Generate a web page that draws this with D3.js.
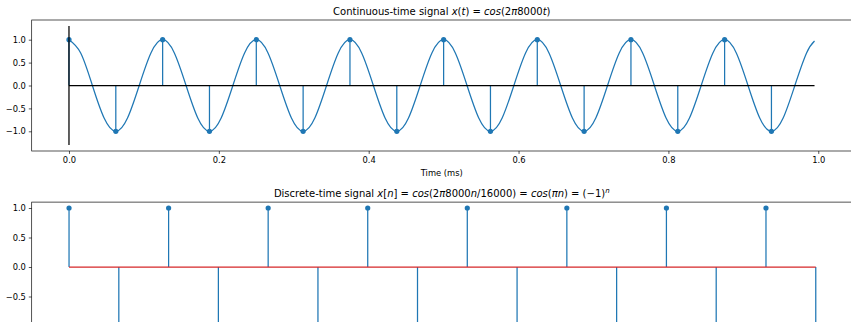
<!DOCTYPE html>
<html>
<head>
<meta charset="utf-8">
<script src="https://cdn.jsdelivr.net/npm/d3@7"></script>
<style>
  body { margin: 0; background: #fff; }
  svg { display: block; font-family: "DejaVu Sans", sans-serif; }
</style>
</head>
<body>
<div id="chart"></div>
<script>
// ---- Data ----
// Continuous signal (8 kHz cosine, time in ms)
const curveTime = [
  0, 0.015625, 0.03125, 0.046875, 0.0625, 0.078125, 0.09375, 0.109375,
  0.125, 0.140625, 0.15625, 0.171875, 0.1875, 0.203125, 0.21875, 0.234375,
  0.25, 0.265625, 0.28125, 0.296875, 0.3125, 0.328125, 0.34375, 0.359375,
  0.375, 0.390625, 0.40625, 0.421875, 0.4375, 0.453125, 0.46875, 0.484375,
  0.5, 0.515625, 0.53125, 0.546875, 0.5625, 0.578125, 0.59375, 0.609375,
  0.625, 0.640625, 0.65625, 0.671875, 0.6875, 0.703125, 0.71875, 0.734375,
  0.75, 0.765625, 0.78125, 0.796875, 0.8125, 0.828125, 0.84375, 0.859375,
  0.875, 0.890625, 0.90625, 0.921875, 0.9375, 0.953125, 0.96875, 0.984375,
  0.995
];
const curveValue = [
  1, 0.71, 0, -0.71, -1, -0.71, 0, 0.71,
  1, 0.71, 0, -0.71, -1, -0.71, 0, 0.71,
  1, 0.71, 0, -0.71, -1, -0.71, 0, 0.71,
  1, 0.71, 0, -0.71, -1, -0.71, 0, 0.71,
  1, 0.71, 0, -0.71, -1, -0.71, 0, 0.71,
  1, 0.71, 0, -0.71, -1, -0.71, 0, 0.71,
  1, 0.71, 0, -0.71, -1, -0.71, 0, 0.71,
  1, 0.71, 0, -0.71, -1, -0.71, 0, 0.71,
  0.97
];
// Samples (16 kHz) in ms
const sampleTime = [0, 0.0625, 0.125, 0.1875, 0.25, 0.3125, 0.375, 0.4375,
                    0.5, 0.5625, 0.625, 0.6875, 0.75, 0.8125, 0.875, 0.9375];
const sampleValue = [1, -1, 1, -1, 1, -1, 1, -1, 1, -1, 1, -1, 1, -1, 1, -1];
// Discrete-time signal
const nIndex = [0, 1, 2, 3, 4, 5, 6, 7, 8, 9, 10, 11, 12, 13, 14, 15];
const nValue = [1, -1, 1, -1, 1, -1, 1, -1, 1, -1, 1, -1, 1, -1, 1, -1];
// Ticks
const topXTicks = [0.0, 0.2, 0.4, 0.6, 0.8, 1.0];
const topYTicks = [-1.0, -0.5, 0.0, 0.5, 1.0];
const botYTicks = [-0.5, 0.0, 0.5, 1.0];
// Vertical reference line extent
const vlineRange = [-1.3, 1.3];

// ---- Layout ----
const W = 851, H = 322;
const blue = "#1f77b4", red = "#d62728";
const left = 31.7, right = 851.8;
const tickFont = 8.33, titleFont = 10;
const lw = 1.25;

const svg = d3.select("#chart").append("svg").attr("width", W).attr("height", H);
const fmt = d => d3.format(".1f")(d).replace("-", "\u2212");

// ---- Top axes ----
const top1 = 20, bot1 = 151;
const x1 = d3.scaleLinear().domain([-0.04975, 1.04475]).range([left, right]);
const y1 = d3.scaleLinear().domain([-1.43, 1.43]).range([bot1, top1]);
const g1 = svg.append("g");

// continuous curve
g1.append("path")
  .datum(curveTime.map((t, i) => [t, curveValue[i]]))
  .attr("fill", "none").attr("stroke", blue).attr("stroke-width", lw)
  .attr("d", d3.line().x(d => x1(d[0])).y(d => y1(d[1])).curve(d3.curveNatural));

// stems
g1.selectAll(".stem").data(sampleTime).join("line")
  .attr("x1", d => x1(d)).attr("x2", d => x1(d))
  .attr("y1", y1(0)).attr("y2", (d, i) => y1(sampleValue[i]))
  .attr("stroke", blue).attr("stroke-width", lw);
g1.selectAll(".mk").data(sampleTime).join("circle")
  .attr("cx", d => x1(d)).attr("cy", (d, i) => y1(sampleValue[i]))
  .attr("r", 2.6).attr("fill", blue);

// black zero line and vertical line
g1.append("line")
  .attr("x1", x1(curveTime[0])).attr("x2", x1(curveTime[curveTime.length - 1]))
  .attr("y1", y1(0)).attr("y2", y1(0))
  .attr("stroke", "#000").attr("stroke-width", lw);
g1.append("line")
  .attr("x1", x1(0)).attr("x2", x1(0))
  .attr("y1", y1(vlineRange[0])).attr("y2", y1(vlineRange[1]))
  .attr("stroke", "#000").attr("stroke-width", lw);

// axes
function styleAxis(g) {
  g.select(".domain").remove();
  g.selectAll(".tick line").attr("stroke", "#000").attr("stroke-width", 0.67);
  g.selectAll(".tick text").attr("fill", "#000").attr("font-size", tickFont)
    .attr("font-family", "DejaVu Sans");
}
g1.append("g").attr("transform", `translate(0,${bot1})`)
  .call(d3.axisBottom(x1).tickValues(topXTicks).tickFormat(fmt).tickSize(2.9).tickPadding(2.9))
  .call(styleAxis);
g1.append("g").attr("transform", `translate(${left},0)`)
  .call(d3.axisLeft(y1).tickValues(topYTicks).tickFormat(fmt).tickSize(2.9).tickPadding(2.9))
  .call(styleAxis);
// spines
g1.append("rect").attr("x", left).attr("y", top1).attr("width", right - left).attr("height", bot1 - top1)
  .attr("fill", "none").attr("stroke", "#000").attr("stroke-width", 0.67);

// x label
svg.append("text").attr("x", (left + right) / 2).attr("y", 176)
  .attr("text-anchor", "middle").attr("font-size", tickFont).attr("fill", "#000")
  .text("Time (ms)");

// title helper
function mathTitle(y, parts) {
  const t = svg.append("text").attr("x", (left + right) / 2).attr("y", y)
    .attr("text-anchor", "middle").attr("font-size", titleFont).attr("fill", "#000");
  parts.forEach(p => {
    const s = t.append("tspan").text(p.t);
    if (p.i) s.attr("font-style", "italic");
    if (p.sup) s.attr("font-size", titleFont * 0.7).attr("dy", -4);
  });
  return t;
}
mathTitle(15, [
  {t: "Continuous-time signal "}, {t: "x", i: 1}, {t: "("}, {t: "t", i: 1}, {t: ") = "},
  {t: "cos", i: 1}, {t: "(2"}, {t: "\u03c0", i: 1}, {t: "8000"}, {t: "t", i: 1}, {t: ")"}
]);

// ---- Bottom axes ----
const top2 = 202.1;
const y0px = 267;
const unit2 = 59;
const y2 = d3.scaleLinear().domain([-1.1, 1.1]).range([y0px + 1.1 * unit2, top2]);
const x2 = d3.scaleLinear().domain([-0.75, 15.75]).range([left, right + 1.3]);
const g2 = svg.append("g");

g2.selectAll(".stem").data(nIndex).join("line")
  .attr("x1", d => x2(d)).attr("x2", d => x2(d))
  .attr("y1", y2(0)).attr("y2", (d, i) => y2(nValue[i]))
  .attr("stroke", blue).attr("stroke-width", lw);
g2.selectAll(".mk").data(nIndex).join("circle")
  .attr("cx", d => x2(d)).attr("cy", (d, i) => y2(nValue[i]))
  .attr("r", 2.6).attr("fill", blue);
g2.append("line")
  .attr("x1", x2(nIndex[0])).attr("x2", x2(nIndex[nIndex.length - 1]))
  .attr("y1", y2(0)).attr("y2", y2(0))
  .attr("stroke", red).attr("stroke-width", lw);

g2.append("g").attr("transform", `translate(${left},0)`)
  .call(d3.axisLeft(y2).tickValues(botYTicks).tickFormat(fmt).tickSize(2.9).tickPadding(2.9))
  .call(styleAxis);
g2.append("rect").attr("x", left).attr("y", top2).attr("width", right - left).attr("height", y2(-1.1) - top2)
  .attr("fill", "none").attr("stroke", "#000").attr("stroke-width", 0.67);

mathTitle(197, [
  {t: "Discrete-time signal "}, {t: "x", i: 1}, {t: "["}, {t: "n", i: 1}, {t: "] = "},
  {t: "cos", i: 1}, {t: "(2"}, {t: "\u03c0", i: 1}, {t: "8000"}, {t: "n", i: 1}, {t: "/16000) = "},
  {t: "cos", i: 1}, {t: "("}, {t: "\u03c0n", i: 1}, {t: ") = (\u22121)"}, {t: "n", i: 1, sup: 1}
]);
</script>
</body>
</html>
